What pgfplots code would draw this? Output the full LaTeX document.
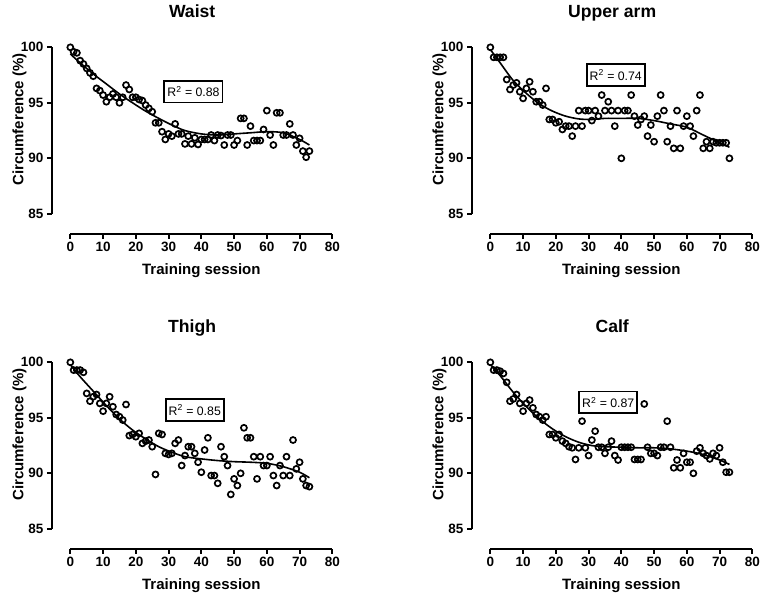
\documentclass[border=0pt]{standalone}
\usepackage{fontspec}
\setmainfont{Liberation Sans}
\usepackage{pgfplots}
\usepackage{pgfplotstable}
\pgfplotsset{compat=1.18}

\pgfplotstableread{
n W A T C
0 100 100 100 100
1 99.6 99.1 99.3 99.3
2 99.5 99.1 99.3 99.3
3 98.8 99.1 99.3 99.2
4 98.5 99.1 99.1 99.0
5 98.1 97.1 97.2 98.2
6 97.7 96.2 96.5 96.5
7 97.4 96.6 96.9 96.7
8 96.3 96.8 97.1 97.1
9 96.1 96.0 96.3 96.3
10 95.7 95.4 95.6 95.6
11 95.1 96.3 96.3 96.3
12 95.5 96.9 96.9 96.6
13 95.8 96.0 96.0 95.9
14 95.5 95.1 95.3 95.3
15 95.0 95.1 95.1 95.1
16 95.5 94.8 94.8 94.8
17 96.6 96.3 96.2 95.1
18 96.2 93.5 93.4 93.5
19 95.5 93.5 93.5 93.5
20 95.5 93.2 93.3 93.2
21 95.3 93.3 93.6 93.5
22 95.2 92.6 92.7 92.9
23 94.8 92.9 92.9 92.7
24 94.5 92.9 93.0 92.4
25 94.2 92.0 92.4 92.3
26 93.2 92.9 89.9 91.25
27 93.2 94.3 93.6 92.3
28 92.4 92.9 93.5 94.7
29 91.7 94.3 91.8 92.3
30 92.2 94.3 91.7 91.6
31 92.0 93.4 91.8 93.0
32 93.1 94.3 92.7 93.8
33 92.2 93.8 93.0 92.35
34 92.2 95.7 90.7 92.35
35 91.3 94.3 91.6 91.8
36 92.0 95.1 92.4 92.35
37 91.3 94.3 92.4 92.9
38 91.85 92.9 91.8 91.6
39 91.25 94.3 91.0 91.2
40 91.7 90.0 90.1 92.35
41 91.7 94.3 92.1 92.35
42 91.7 94.3 93.2 92.35
43 92.1 95.7 89.8 92.35
44 91.6 93.8 89.8 91.25
45 92.1 93.0 89.1 91.25
46 92.05 93.5 92.4 91.25
47 91.2 93.8 91.5 96.25
48 92.1 92.0 90.7 92.35
49 92.1 93.0 88.1 91.8
50 91.2 91.5 89.5 91.8
51 91.6 93.8 88.9 91.6
52 93.6 95.7 90.0 92.35
53 93.6 94.3 94.1 92.35
54 91.2 91.5 93.2 94.7
55 92.9 92.9 93.2 92.35
56 91.6 90.9 91.5 90.5
57 91.6 94.3 89.5 91.2
58 91.6 90.9 91.5 90.5
59 92.6 92.9 90.7 91.8
60 94.3 93.8 90.7 91.0
61 92.1 92.9 91.5 91.0
62 91.2 92.0 89.8 90.0
63 94.1 94.3 88.9 92.0
64 94.1 95.7 90.7 92.3
65 92.1 90.9 89.8 91.8
66 92.1 91.5 91.5 91.6
67 93.1 90.9 89.8 91.3
68 92.1 91.5 93.0 91.8
69 91.2 91.4 90.4 91.6
70 91.8 91.4 91.0 92.3
71 90.65 91.4 89.5 91.0
72 90.1 91.4 88.9 90.1
73 90.65 90.0 88.8 90.1
}\ptsdata

\pgfplotstableread{
x W A T C
0 99.4 99.8 99.8 99.8
3 98.6 98.6 98.7 98.8
7 97.6 97.0 97.4 97.3
11 96.7 95.85 96.1 96.0
15 95.8 94.9 94.9 94.9
19 95.0 94.25 93.9 94.0
23 94.25 93.8 93.1 93.3
27 93.6 93.55 92.4 92.8
31 93.0 93.5 91.9 92.5
35 92.5 93.6 91.5 92.4
40 92.2 93.6 91.3 92.35
45 92.1 93.6 91.15 92.3
50 92.2 93.4 91.05 92.3
55 92.3 93.1 91.0 92.2
60 92.4 92.8 90.9 92.0
65 92.3 92.1 90.6 91.7
70 91.7 91.4 90.1 91.2
73 91.2 91.0 89.6 90.8
}\fitdata

\pgfplotsset{
  panel/.style={
    anchor=south west,
    x=3.275pt, y=11.1pt,
    xmin=-5.6, xmax=80, ymin=83.2, ymax=100,
    axis x line*=bottom, axis y line*=left,
    axis line style={draw=none},
    xtick={0,10,...,80}, ytick={85,90,95,100},
    tick align=outside, major tick length=5pt,
    every tick/.style={black, line width=1.9pt},
    tick label style={font=\fontsize{13.5}{16}\selectfont\bfseries},
    /pgf/number format/assume math mode=true,
    clip=false,
    xlabel={Training session}, ylabel={Circumference (\%)},
    label style={font=\fontsize{15}{18}\selectfont\bfseries},
    xlabel style={at={(axis description cs:0.5327,0)}, anchor=center, yshift=-37pt},
    ylabel style={at={(axis description cs:-0.116,0.613)}, anchor=center},
    title style={at={(axis description cs:0.5,1)}, anchor=base, yshift=24pt,
      font=\fontsize{17.6}{21}\selectfont\bfseries},
  },
  pts/.style={only marks, mark=o, mark size=3pt, black,
    mark options={line width=1.7pt}},
  fitline/.style={no marks, smooth, black, line width=1.6pt},
}
\tikzset{
  rbox/.style={draw, line width=1.9pt, inner xsep=3pt, inner ysep=5.5pt, fill=white,
    font=\fontsize{12.3}{14}\selectfont},
}

\newcommand{\axframe}{%
  \draw[line width=1.9pt] (axis cs:0,83.2) -- (axis cs:80,83.2);
  \draw[line width=1.9pt] (axis cs:-5.6,85) -- (axis cs:-5.6,100);
}

\begin{document}
\begin{tikzpicture}
\path (0pt,0pt) rectangle (766pt,-603pt);

\begin{axis}[panel, at={(52pt,-233.8pt)}, title={Waist}]
  \axframe
  \addplot[fitline] table[x=x, y=W] {\fitdata};
  \addplot[pts] table[x=n, y=W] {\ptsdata};
  \node[rbox] at (axis cs:37.6,96.0) {R\textsuperscript{2} = 0.88};
\end{axis}

\begin{axis}[panel, at={(472pt,-233.8pt)}, title={Upper arm}]
  \axframe
  \addplot[fitline] table[x=x, y=A] {\fitdata};
  \addplot[pts] table[x=n, y=A] {\ptsdata};
  \node[rbox] at (axis cs:38.3,97.5) {R\textsuperscript{2} = 0.74};
\end{axis}

\begin{axis}[panel, at={(52pt,-548.8pt)}, title={Thigh}]
  \axframe
  \addplot[fitline] table[x=x, y=T] {\fitdata};
  \addplot[pts] table[x=n, y=T] {\ptsdata};
  \node[rbox] at (axis cs:38.0,95.7) {R\textsuperscript{2} = 0.85};
\end{axis}

\begin{axis}[panel, at={(472pt,-548.8pt)}, title={Calf}]
  \axframe
  \addplot[fitline] table[x=x, y=C] {\fitdata};
  \addplot[pts] table[x=n, y=C] {\ptsdata};
  \node[rbox] at (axis cs:36,96.4) {R\textsuperscript{2} = 0.87};
\end{axis}
\end{tikzpicture}
\end{document}
